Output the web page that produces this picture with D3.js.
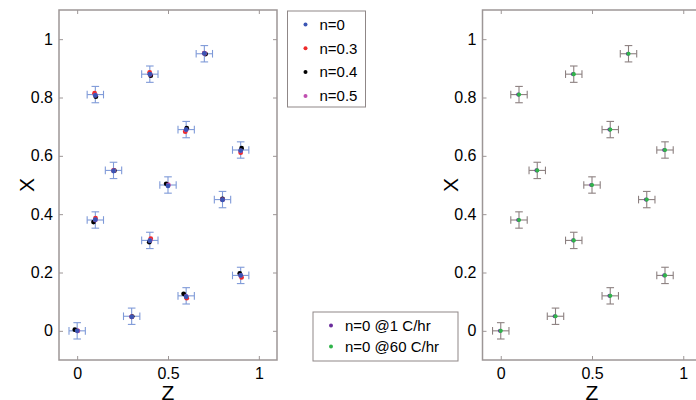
<!DOCTYPE html>
<html>
<head>
<meta charset="utf-8">
<script src="https://cdn.jsdelivr.net/npm/d3@7"></script>
<style>
  body { margin: 0; background: #fff; }
  svg text { font-family: "Liberation Sans", Arial, sans-serif; }
</style>
</head>
<body>
<div id="chart"></div>
<script>
// Data: base grid of points (Z, X)
const zBase = [0, 0.1, 0.1, 0.2, 0.3, 0.4, 0.4, 0.5, 0.6, 0.6, 0.7, 0.8, 0.9, 0.9];
const xBase = [0, 0.81, 0.38, 0.55, 0.05, 0.88, 0.31, 0.5, 0.69, 0.12, 0.95, 0.45, 0.62, 0.19];

// left panel series (small shifts between the runs)
const zN03 = [0.002, 0.096, 0.101, 0.2, 0.3, 0.399, 0.405, 0.5, 0.595, 0.603, 0.7, 0.8, 0.9, 0.905];
const xN03 = [0.0, 0.815, 0.386, 0.55, 0.048, 0.886, 0.316, 0.5, 0.683, 0.112, 0.952, 0.45, 0.611, 0.183];
const zN04 = [-0.013, 0.103, 0.09, 0.205, 0.303, 0.405, 0.397, 0.49, 0.603, 0.586, 0.707, 0.8, 0.905, 0.895];
const xN04 = [0.004, 0.803, 0.373, 0.549, 0.049, 0.875, 0.304, 0.504, 0.695, 0.127, 0.949, 0.452, 0.626, 0.197];
const zN05 = [0.004, 0.1, 0.1, 0.202, 0.3, 0.402, 0.402, 0.502, 0.6, 0.6, 0.702, 0.8, 0.9, 0.9];
const xN05 = [0.0, 0.808, 0.38, 0.549, 0.048, 0.879, 0.31, 0.5, 0.689, 0.118, 0.951, 0.45, 0.617, 0.19];
const zN0 = zBase;
const xN0 = [0.0, 0.807, 0.381, 0.548, 0.048, 0.88, 0.309, 0.497, 0.69, 0.117, 0.951, 0.449, 0.618, 0.19];

// right panel series
const zSlow = [-0.004, 0.096, 0.096, 0.196, 0.296, 0.396, 0.397, 0.496, 0.596, 0.596, 0.697, 0.796, 0.896, 0.896];
const xSlow = [0.0, 0.81, 0.38, 0.55, 0.05, 0.88, 0.31, 0.5, 0.69, 0.12, 0.95, 0.45, 0.62, 0.19];
const zFast = zBase;
const xFast = xBase;

const zErr = 0.045, xErr = 0.028;

const leftLegend = ["n=0", "n=0.3", "n=0.4", "n=0.5"];
const leftColors = ["#3a55b4", "#ee2a2a", "#000000", "#c04fb0"];
const rightLegend = ["n=0 @1 C/hr", "n=0 @60 C/hr"];
const rightColors = ["#6a2c9c", "#2fb44a"];

const xTicks = [0, 0.5, 1];
const yTicks = [0, 0.2, 0.4, 0.6, 0.8, 1];

const width = 696, height = 400;
const axisColor = "#9d9696";

const svg = d3.select("#chart").append("svg")
    .attr("width", width)
    .attr("height", height);

function panel(left, right, top, bottom, barColor, dotR, series) {
  const xs = d3.scaleLinear([-0.1, 1.1], [left, right]);
  const ys = d3.scaleLinear([-0.1, 1.1], [bottom, top]);
  const g = svg.append("g");

  // frame
  g.append("rect")
      .attr("x", left).attr("y", top)
      .attr("width", right - left).attr("height", bottom - top)
      .attr("fill", "none").attr("stroke", axisColor).attr("stroke-width", 1.5);

  const fmt = d => d === 0 ? "0" : d3.format("~g")(d);
  const axes = [
    [d3.axisBottom(xs).tickValues(xTicks).tickFormat(fmt).tickSize(-4).tickPadding(8), `translate(0,${bottom})`],
    [d3.axisTop(xs).tickValues(xTicks).tickFormat("").tickSize(-4), `translate(0,${top})`],
    [d3.axisLeft(ys).tickValues(yTicks).tickFormat(fmt).tickSize(-4).tickPadding(6), `translate(${left},0)`],
    [d3.axisRight(ys).tickValues(yTicks).tickFormat("").tickSize(-4), `translate(${right},0)`]
  ];
  axes.forEach(([ax, tr]) => {
    const a = g.append("g").attr("transform", tr).call(ax);
    a.select(".domain").remove();
    a.selectAll(".tick line").attr("stroke", axisColor).attr("stroke-width", 1);
    a.selectAll(".tick text").attr("fill", "#000").style("font-size", "16px");
  });

  // axis titles
  g.append("text")
      .attr("transform", `translate(${left - 32},${(top + bottom) / 2}) rotate(-90)`)
      .attr("text-anchor", "middle").attr("dy", "0.35em")
      .style("font-size", "21px").text("X");
  g.append("text")
      .attr("x", xs(0.5)).attr("y", bottom + 40)
      .attr("text-anchor", "middle")
      .style("font-size", "21px").text("Z");

  // error bars on the reference series
  const eb = g.append("g").attr("stroke", barColor).attr("stroke-width", 1.1).attr("fill", "none");
  const cap = 3.8;
  zBase.forEach((z, i) => {
    const cx = xs(z), cy = ys(xBase[i]);
    const x1 = xs(z - zErr), x2 = xs(z + zErr);
    const y1 = ys(xBase[i] - xErr), y2 = ys(xBase[i] + xErr);
    eb.append("line").attr("x1", x1).attr("x2", x2).attr("y1", cy).attr("y2", cy);
    eb.append("line").attr("x1", x1).attr("x2", x1).attr("y1", cy - cap).attr("y2", cy + cap);
    eb.append("line").attr("x1", x2).attr("x2", x2).attr("y1", cy - cap).attr("y2", cy + cap);
    eb.append("line").attr("x1", cx).attr("x2", cx).attr("y1", y1).attr("y2", y2);
    eb.append("line").attr("x1", cx - cap).attr("x2", cx + cap).attr("y1", y1).attr("y2", y1);
    eb.append("line").attr("x1", cx - cap).attr("x2", cx + cap).attr("y1", y2).attr("y2", y2);
  });

  series.forEach(s => {
    g.append("g").selectAll("circle")
      .data(d3.range(s.z.length))
      .join("circle")
        .attr("cx", i => xs(s.z[i]))
        .attr("cy", i => ys(s.x[i]))
        .attr("r", dotR)
        .attr("fill", s.color);
  });
}

function legend(x, y, w, h, labels, colors, rowH, fontSize) {
  const g = svg.append("g");
  g.append("rect").attr("x", x).attr("y", y).attr("width", w).attr("height", h)
      .attr("fill", "#fff").attr("stroke", "#8f8787").attr("stroke-width", 1);
  labels.forEach((t, i) => {
    const cy = y + 13.5 + i * rowH;
    g.append("circle").attr("cx", x + 18).attr("cy", cy).attr("r", 2).attr("fill", colors[i]);
    g.append("text").attr("x", x + 32).attr("y", cy).attr("dy", "0.35em")
        .style("font-size", fontSize + "px").text(t);
  });
}

// left panel: draw n=0.3, 0.4, 0.5 then n=0 on top
panel(59, 277, 10, 360, "#7f9ad8", 2.4, [
  {z: zN03, x: xN03, color: leftColors[1]},
  {z: zN04, x: xN04, color: leftColors[2]},
  {z: zN05, x: xN05, color: leftColors[3]},
  {z: zN0, x: xN0, color: leftColors[0]}
]);

// right panel
panel(482.5, 701.5, 10, 360, "#8c8080", 2.1, [
  {z: zSlow, x: xSlow, color: rightColors[0]},
  {z: zFast, x: xFast, color: rightColors[1]}
]);

legend(287.5, 11, 78, 96, leftLegend, leftColors, 23.8, 15);
legend(313, 312, 145, 49, rightLegend, rightColors, 21, 15);
</script>
</body>
</html>
